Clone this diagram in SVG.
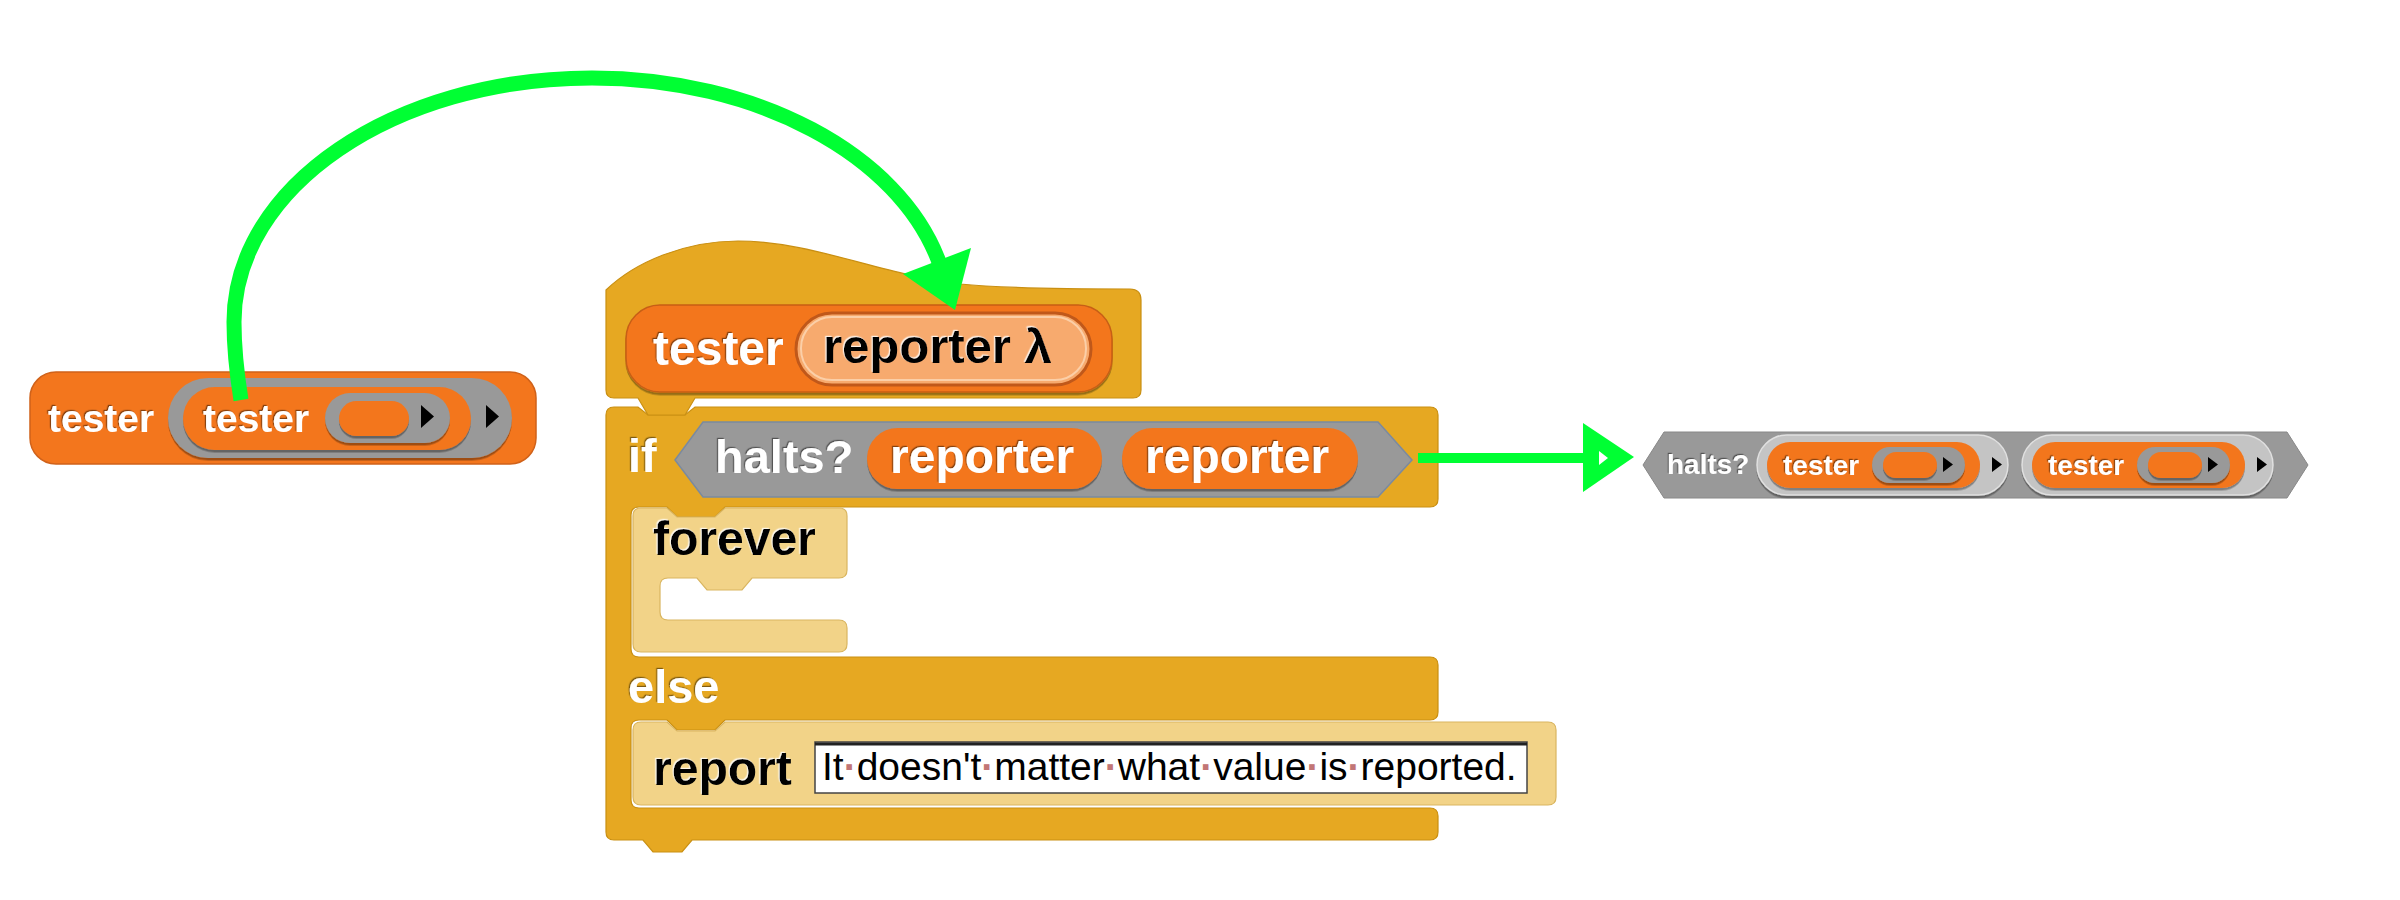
<svg xmlns="http://www.w3.org/2000/svg" width="2400" height="900" viewBox="0 0 2400 900">
<defs>
<filter id="tsw" x="-5%" y="-20%" width="110%" height="140%"><feDropShadow dx="-1.2" dy="-1.2" stdDeviation="0.4" flood-color="#000" flood-opacity="0.45"/></filter>
<filter id="tsb" x="-5%" y="-20%" width="110%" height="140%"><feDropShadow dx="-1.2" dy="-1.2" stdDeviation="0.5" flood-color="#fff" flood-opacity="0.8"/></filter>
<filter id="bs" x="-5%" y="-10%" width="110%" height="130%"><feDropShadow dx="0" dy="2.5" stdDeviation="0.3" flood-color="#000" flood-opacity="0.35"/></filter>
</defs>
<style>
.t{font-family:"Liberation Sans",Arial,sans-serif;font-weight:bold}
.w{fill:#fff;filter:url(#tsw)}
.k{fill:#000;filter:url(#tsb)}
.org{fill:#F3761D;filter:url(#bs)}
.ring{fill:#999;filter:url(#bs)}
.lring{fill:#C4C4C4;stroke:#e0e0e0;stroke-width:1.5;filter:url(#bs)}
.ctl{fill:#E6A822;stroke:#C98F12;stroke-width:1.2}
.zeb{fill:#F2D388;stroke:#D9B560;stroke-width:1.2}
.pred{fill:#999;stroke:#7a8aa0;stroke-width:1.5}
.tri{fill:#000}
.slottxt{font-family:"Liberation Sans",Arial,sans-serif;font-size:39px;fill:#000}
.dot{fill:#C27676;font-weight:bold}
.green{fill:none;stroke:#00FF33;stroke-linecap:butt}
.gfill{fill:#00FF33}
</style>

<g id="left-block">
<rect x="30" y="372" width="506" height="92" rx="26" fill="#F3761D" stroke="#D0621A" stroke-width="1.5"/>
<text class="t w" x="48" y="432" font-size="39">tester</text>
<rect class="ring" x="168" y="378" width="344" height="80" rx="40"/>
<rect class="org" x="183" y="387" width="288" height="63" rx="31.5"/>
<text class="t w" x="203" y="432" font-size="39">tester</text>
<rect class="ring" x="325" y="393" width="125" height="50" rx="25"/>
<rect class="org" x="339" y="401" width="70" height="35" rx="17.5"/>
<polygon class="tri" points="421,405 434,416.5 421,428"/>
<polygon class="tri" points="486,405 499,416.5 486,428"/>
</g>

<g id="if-else-block">
<path class="ctl" d="M614 407 L638 407 L648 415 L685 415 L695 407 L1430 407 Q1438 407 1438 415 L1438 499 Q1438 507 1430 507 L725 507 L715 517 L677 517 L667 507 L639 507 Q631 507 631 515 L631 649 Q631 657 639 657 L1430 657 Q1438 657 1438 665 L1438 712 Q1438 720 1430 720 L725 720 L715 730 L677 730 L667 720 L639 720 Q631 720 631 728 L631 800 Q631 808 639 808 L1430 808 Q1438 808 1438 816 L1438 832 Q1438 840 1430 840 L692 840 L682 852 L653 852 L643 840 L614 840 Q606 840 606 832 L606 415 Q606 407 614 407 Z"/>
<text class="t w" x="628" y="472" font-size="47">if</text>
<polygon class="pred" points="675,460 703,422 1378,422 1412,460 1378,497 703,497"/>
<text class="t w" x="715" y="473" font-size="47">halts?</text>
<rect class="org" x="867" y="428" width="235" height="61" rx="30.5"/>
<text class="t w" x="890" y="473" font-size="48">reporter</text>
<rect class="org" x="1122" y="428" width="236" height="61" rx="30.5"/>
<text class="t w" x="1145" y="473" font-size="48">reporter</text>
<text class="t w" x="628" y="703" font-size="47">else</text>
</g>

<g id="forever-block">
<path class="zeb" d="M641 508 L667 508 L677 517 L715 517 L725 508 L839 508 Q847 508 847 516 L847 570 Q847 578 839 578 L752 578 L742 590 L707 590 L697 578 L668 578 Q660 578 660 586 L660 612 Q660 620 668 620 L839 620 Q847 620 847 628 L847 644 Q847 652 839 652 L641 652 Q633 652 633 644 L633 516 Q633 508 641 508 Z"/>
<text class="t k" x="653" y="555" font-size="48">forever</text>
</g>

<g id="report-block">
<path class="zeb" d="M641 722 L667 722 L677 731 L715 731 L725 722 L1548 722 Q1556 722 1556 730 L1556 797 Q1556 805 1548 805 L641 805 Q633 805 633 797 L633 730 Q633 722 641 722 Z"/>
<text class="t k" x="653" y="785" font-size="48">report</text>
<rect x="815" y="742" width="712" height="51" fill="#fff" stroke="#444" stroke-width="1.5"/>
<line x1="815" y1="744" x2="1527" y2="744" stroke="#222" stroke-width="3"/>
<text class="slottxt" x="822" y="780">It<tspan class="dot">·</tspan>doesn't<tspan class="dot">·</tspan>matter<tspan class="dot">·</tspan>what<tspan class="dot">·</tspan>value<tspan class="dot">·</tspan>is<tspan class="dot">·</tspan>reported.</text>
</g>

<g id="hat-block">
<path class="ctl" d="M606 290 C635 262 685 241 738 241 C810 241 880 274 960 284 C1000 288 1060 289 1130 289 Q1141 289 1141 300 L1141 390 Q1141 398 1133 398 L695 398 L685 415 L648 415 L638 398 L614 398 Q606 398 606 390 Z"/>
<rect x="626" y="305" width="486" height="87" rx="34" fill="#F3761D" stroke="#C75F15" stroke-width="1.5" filter="url(#bs)"/>
<text class="t w" x="653" y="365" font-size="48">tester</text>
<rect x="796" y="313" width="295" height="72" rx="36" fill="#F7AA6E" stroke="#C0581A" stroke-width="3"/>
<rect x="801" y="317" width="285" height="63" rx="31" fill="none" stroke="#FBCFA8" stroke-width="2"/>
<text class="t k" x="823" y="363" font-size="49">reporter λ</text>
</g>

<g id="halts-block">
<polygon points="1643,465 1664,432 2287,432 2308,465 2287,498 1664,498" fill="#999" stroke="#888" stroke-width="1"/>
<text class="t w" x="1667" y="474" font-size="28">halts?</text>
<rect class="lring" x="1757" y="435" width="251" height="60" rx="30"/>
<rect class="org" x="1767" y="442" width="213" height="46" rx="23"/>
<text class="t w" x="1783" y="475" font-size="28">tester</text>
<rect class="ring" x="1872" y="447" width="93" height="36" rx="18"/>
<rect class="org" x="1883" y="452" width="54" height="26" rx="13"/>
<polygon class="tri" points="1943,457 1953,464.5 1943,472"/>
<polygon class="tri" points="1992,457 2002,464.5 1992,472"/>
<rect class="lring" x="2022" y="435" width="251" height="60" rx="30"/>
<rect class="org" x="2032" y="442" width="213" height="46" rx="23"/>
<text class="t w" x="2048" y="475" font-size="28">tester</text>
<rect class="ring" x="2137" y="447" width="93" height="36" rx="18"/>
<rect class="org" x="2148" y="452" width="54" height="26" rx="13"/>
<polygon class="tri" points="2208,457 2218,464.5 2208,472"/>
<polygon class="tri" points="2257,457 2267,464.5 2257,472"/>
</g>

<g id="connectors">
<path class="green" stroke-width="15" d="M241 400 C237 375 234 350 234 322 C234 187 394 78 592 78 C756 78 899 154 939 262"/>
<polygon class="gfill" points="955,310 903,274 971,248"/>
<line class="green" stroke-width="10" x1="1418" y1="458" x2="1592" y2="458"/>
<polygon class="gfill" points="1583,423 1634,457 1583,492"/>
<polygon fill="#fff" points="1599,451 1608,458 1599,465"/>
</g>
</svg>
